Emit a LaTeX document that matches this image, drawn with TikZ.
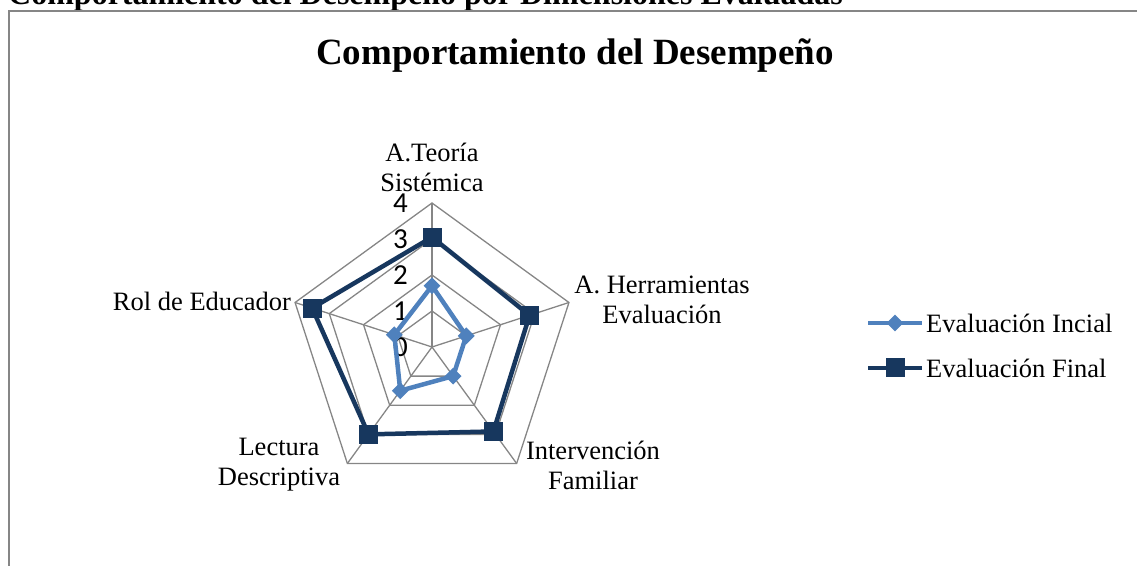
\documentclass[tikz,border=0pt]{standalone}
\usepackage{fontspec}
\setmainfont{Liberation Serif}
\newfontfamily\numfont{Carlito}
\usetikzlibrary{shapes.geometric,positioning}
\definecolor{inicial}{HTML}{4F81BD}
\definecolor{final}{HTML}{17375E}
\definecolor{rejilla}{HTML}{868686}
\tikzset{
  lbl/.style={align=center,font=\fontsize{26.5}{30}\selectfont},
  mkI/.style={diamond,fill=inicial,inner sep=0pt,minimum size=17pt},
  mkF/.style={rectangle,fill=final,inner sep=0pt,minimum size=19pt},
  grid line/.style={rejilla,line width=1.3pt},
}

\begin{document}
\begin{tikzpicture}[x=1pt,y=1pt]
\useasboundingbox (0,0) rectangle (1137,565);
\node[anchor=base west,inner sep=0pt,font=\bfseries\fontsize{32}{36}\selectfont] (cap) at (8,560) {Comportamiento del Desempeño por Dimensiones Evaluadas};
\draw[rejilla,line width=1.6pt] (9,-10) |- (1150,554);
\node[anchor=base,inner sep=0pt,font=\bfseries\fontsize{37}{40}\selectfont] (titulo) at (575,500) {Comportamiento del Desempeño};

\begin{scope}[shift={(432,218)}]
	\coordinate (O) at (0,0);
	% rejilla
	\foreach \r [evaluate=\r as \R using 36*\r] in {1,...,4}
		\draw[grid line] (90:\R) -- (18:\R) -- (-54:\R) -- (-126:\R) -- (162:\R) -- cycle;
	\foreach \a [count=\n] in {90,18,-54,-126,162}
		\draw[grid line] (O) -- (\a:144) coordinate (V\n);
	\foreach \v in {0,...,4}
		\node[anchor=east,inner sep=0pt,font=\numfont\fontsize{29}{29}\selectfont] (t\v) at (-24,36*\v) {\v};

	% series
	\foreach \a/\v [count=\n] in {90/1.7,18/1.0,-54/1.0,-126/1.5,162/1.1}
		\node[mkI] (I\n) at (\a:36*\v) {};
	\draw[inicial,line width=4.5pt,line join=round] (I1.center) -- (I2.center) -- (I3.center) -- (I4.center) -- (I5.center) -- cycle;
	\foreach \a/\v [count=\n] in {90/3.05,18/2.85,-54/2.9,-126/3.0,162/3.5}
		\node[mkF] (F\n) at (\a:36*\v) {};
	\draw[final,line width=4.5pt,line join=round] (F1.center) -- (F2.center) -- (F3.center) -- (F4.center) -- (F5.center) -- cycle;

	% categorias
	\node[lbl] (teoria) at (0,180) {A.Teoría\\Sistémica};
	\node[lbl] (herram) at (230,47) {A. Herramientas\\Evaluación};
	\node[lbl] (interv) at (161,-118) {Intervención\\Familiar};
	\node[lbl] (lectura) at (-153,-118) {Lectura\\Descriptiva};
	\node[lbl] (rol) at (-230,46) {Rol de Educador};
\end{scope}

% leyenda
\node[mkI] (legI) at (895,242) {};
\draw[inicial,line width=4.5pt] ([xshift=-27pt]legI.center) -- ([xshift=27pt]legI.center);
\node[lbl,anchor=west,inner sep=0pt] (txtI) at (926,242) {Evaluación Incial};
\node[mkF] (legF) at (895,197) {};
\draw[final,line width=4.5pt] ([xshift=-27pt]legF.center) -- ([xshift=27pt]legF.center);
\node[lbl,anchor=west,inner sep=0pt] (txtF) at (926,197) {Evaluación Final};
\end{tikzpicture}
\end{document}
